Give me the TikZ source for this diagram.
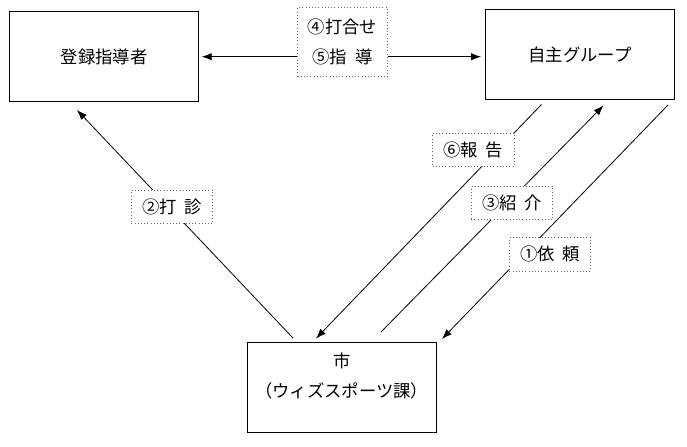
\documentclass[tikz,border=0pt]{standalone}
\usepackage{fontspec}
\usepackage{tikz}
\usetikzlibrary{arrows.meta}
\newfontfamily\jpfont{Noto Sans CJK JP}
\newcommand{\gap}{\hspace{0.45em}}

\begin{document}
\begin{tikzpicture}[x=0.75pt,y=0.75pt,yscale=-1,
  box/.style={draw,line width=0.8pt,inner sep=0pt,minimum width=141.5pt,minimum height=67.5pt},
  txt/.style={inner sep=0pt,align=center,font=\jpfont\fontsize{13}{22.5}\selectfont},
  tag/.style={txt,draw=black!60,dotted,fill=white,minimum width=61pt,minimum height=25pt},
  conn/.style={line width=0.6pt,-{Latex[length=7.5pt,width=5.5pt]}}]
\useasboundingbox (0,0) rectangle (687,447);

% Boxes
\node (lead) [box,txt] at (104.2,56.7) {登録指導者};
\node (grp) [box,txt] at (580,54.7) {自主グループ};
\node (city) [box] at (341.7,387.2) {};
\node (citytxt) [txt] at (341.7,376.5) {市\\（ウィズスポーツ課）};

% Free ends of the diagonal lines
\coordinate (a2) at (293,338);  \coordinate (b2) at (77,110);
\coordinate (a6) at (541.5,104.5); \coordinate (b6) at (316,338.5);
\coordinate (a3) at (381,332);  \coordinate (b3) at (603.5,105.5);
\coordinate (a1) at (668,105);  \coordinate (b1) at (442,339);

% Connectors
\draw [conn,{Latex[length=7.5pt,width=5.5pt]}-{Latex[length=7.5pt,width=5.5pt]},shorten <=2pt,shorten >=3pt] (lead.east) -- (lead.east -| grp.west);
\draw [conn] (a2) -- (b2);
\draw [conn] (a6) -- (b6);
\draw [conn] (a3) -- (b3);
\draw [conn] (a1) -- (b1);

% Text Node
\node (talk) [tag,minimum width=67.5pt,minimum height=51.5pt] at (342.5,41.7) {④打合せ\\⑤指\gap 導};
\node (sound) [tag] at (172,206.7) {②打\gap 診};
\node (report) [tag] at (473.2,149.7) {⑥報\gap 告};
\node (intro) [tag] at (511.9,203) {③紹\gap 介};
\node (ask) [tag] at (550,254.2) {①依\gap 頼};

\end{tikzpicture}
\end{document}
